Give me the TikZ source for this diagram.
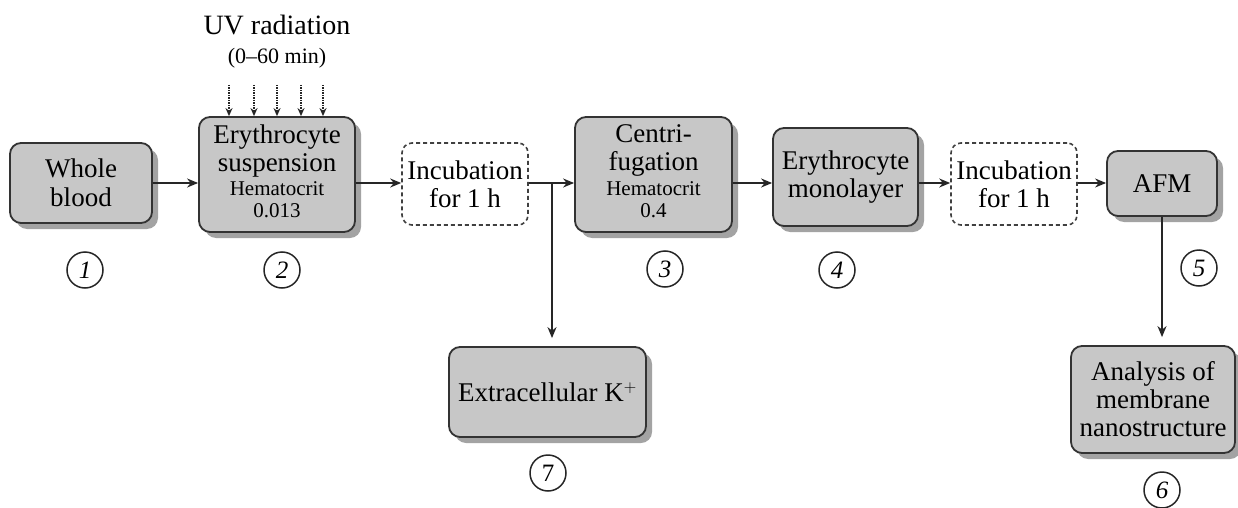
\documentclass[tikz,border=0pt]{standalone}
\usepackage{fontspec}
\setmainfont{Liberation Serif}
\usetikzlibrary{arrows.meta,shadows}
\newcommand{\smallf}{\fontsize{21}{23}\selectfont}
\newcommand{\stk}[2][0pt]{\raisebox{#1}{\begin{tabular}{@{}c@{}}#2\end{tabular}}}
\begin{document}
\begin{tikzpicture}[x=1pt,y=1pt,
  box/.style={draw=black!80, line width=1.8pt, fill=black!22, rounded corners=11pt,
    drop shadow={shadow xshift=6pt, shadow yshift=-6pt, fill=black!36, opacity=1},
    align=center, inner sep=0pt, font=\fontsize{27}{28}\selectfont},
  dbox/.style={draw=black!75, line width=1.6pt, dash pattern=on 4pt off 3pt, fill=white, rounded corners=10pt,
    align=center, inner sep=0pt, font=\fontsize{27}{28}\selectfont},
  num/.style={circle, draw=black!85, line width=1.5pt, minimum size=36pt, inner sep=0pt,
    font=\fontsize{25}{27}\selectfont\itshape},
  arr/.style={draw=black!85, line width=1.7pt, -{Stealth[length=11pt,width=9pt]}},
  uvarr/.style={draw=black!85, line width=1.5pt, densely dotted, -{Stealth[length=8pt,width=7pt]}},
  txt/.style={inner sep=0pt}]
\useasboundingbox (0,0) rectangle (1238,-508);

% boxes
\node[box, minimum width=142pt, minimum height=80pt] (b1) at (81,-183) {Whole\\[1pt]blood};
\node[box, minimum width=156pt, minimum height=115pt] (b2) at (277,-174.5)
  {\stk[-4pt]{Erythrocyte\\suspension\\[-4pt]\smallf Hematocrit\\[-6pt]\smallf 0.013}};
\node[dbox, minimum width=126pt, minimum height=82pt] (inc1) at (465,-184) {Incubation\\for 1 h};
\node[box, minimum width=157pt, minimum height=115pt] (b3) at (653.5,-174.5)
  {\stk[-5pt]{Centri-\\fugation\\[-3pt]\smallf Hematocrit\\[-6pt]\smallf 0.4}};
\node[box, minimum width=145pt, minimum height=98pt] (b4) at (845.5,-177) {Erythrocyte\\monolayer};
\node[dbox, minimum width=126pt, minimum height=82pt] (inc2) at (1014,-184) {Incubation\\for 1 h};
\node[box, minimum width=110pt, minimum height=65pt] (afm) at (1162,-183.5) {AFM};
\node[box, minimum width=197pt, minimum height=90pt] (b7) at (547.5,-392) {Extracellular K$^{+}$};
\node[box, minimum width=164pt, minimum height=107pt] (b6) at (1153,-399.5) {Analysis of\\membrane\\nanostructure};

% number circles
\node[num] (c1) at (85,-270) {1};
\node[num] (c2) at (282,-270) {2};
\node[num] (c3) at (665,-269) {3};
\node[num] (c4) at (837,-270) {4};
\node[num] (c5) at (1199,-268) {5};
\node[num] (c6) at (1162,-490) {6};
\node[num, font=\fontsize{25}{27}\selectfont] (c7) at (548,-473) {7};

% UV text
\node[txt, font=\fontsize{28}{30}\selectfont] (uv) at (277,-25) {UV radiation};
\node[txt, font=\fontsize{22}{24}\selectfont] (uvt) at (277,-58) {(0--60 min)};

% UV arrows
\foreach \i/\x in {1/229,2/254,3/277,4/301,5/323}{
  \coordinate (uv\i) at (\x,-85);
  \draw[uvarr] (uv\i) -- (uv\i |- b2.north);
}

% flow arrows
\coordinate (br) at (552,-183);
\draw[arr] (b1.east |- br) -- (b2.west |- br);
\draw[arr] (b2.east |- br) -- (inc1.west |- br);
\draw[arr] (inc1.east |- br) -- (b3.west |- br);
\draw[arr, shorten >=8pt] (br) -- (br |- b7.north);
\draw[arr] (b3.east |- br) -- (b4.west |- br);
\draw[arr] (b4.east |- br) -- (inc2.west |- br);
\draw[arr] (inc2.east |- br) -- (afm.west |- br);
\draw[arr, shorten >=8pt] (afm.south) -- (afm.south |- b6.north);
\end{tikzpicture}
\end{document}
